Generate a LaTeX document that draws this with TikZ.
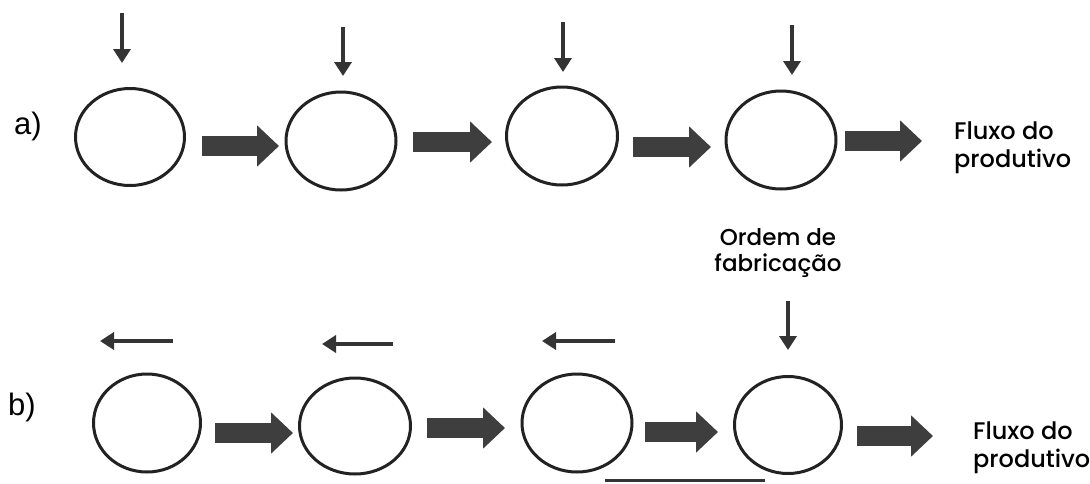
\documentclass[tikz,border=0pt]{standalone}
\usepackage{fontspec}
\setmainfont{Poppins}[UprightFont={* Medium}]
\newfontfamily\labfont{Liberation Sans}
\usetikzlibrary{arrows.meta,shapes.geometric,calc}
\definecolor{ink}{RGB}{34,34,34}
\definecolor{fatgray}{RGB}{62,62,62}
\definecolor{thingray}{RGB}{52,52,52}
\tikzset{
  station/.style={ellipse,draw=ink,line width=3pt,inner sep=0pt},
  fat/.style={draw=fatgray,line width=20pt,-{Triangle[length=22pt,width=40pt]}},
  thin/.style={draw=thingray,line width=3.5pt,-{Triangle[length=14pt,width=17pt]}},
  flowtext/.style={anchor=north west,align=left,inner sep=0pt,font=\fontsize{24}{28}\selectfont},
  lab/.style={inner sep=0pt,font=\labfont\fontsize{31}{32}\selectfont}
}
\begin{document}
\begin{tikzpicture}[x=1pt,y=-1pt]
\useasboundingbox[fill=white] (0,0) rectangle (1090,483);
% row a
\node[station,minimum width=109pt,minimum height=97pt] (a1) at (130,137) {};
\node[station,minimum width=110pt,minimum height=98pt] (a2) at (341,141) {};
\node[station,minimum width=111pt,minimum height=98pt] (a3) at (562,136) {};
\node[station,minimum width=110pt,minimum height=98pt] (a4) at (781,140) {};
\node[lab] (la) at (28,126) {a)};
\node[flowtext] (fa) at (954,122) {Fluxo do\\produtivo};
\coordinate (ta1) at (122,13);
\coordinate (ta2) at (343,27);
\coordinate (ta3) at (563,22);
\coordinate (ta4) at (792,25);
\coordinate (aout) at (922,141);
\draw[thin] (ta1) -- ($(a1.north)+(-8,-24)$);
\draw[thin] (ta2) -- ($(a2.north)+(2,-14.5)$);
\draw[thin] (ta3) -- ($(a3.north)+(1,-13.5)$);
\draw[thin] (ta4) -- ($(a4.north)+(11,-14.5)$);
\draw[fat] ($(a1.east)+(16,9)$) -- ($(a2.west)+(-5.5,5)$);
\draw[fat] ($(a2.east)+(15.5,1)$) -- ($(a3.west)+(-13,6)$);
\draw[fat] ($(a3.east)+(14,11)$) -- ($(a4.west)+(-13.5,7)$);
\draw[fat] ($(a4.east)+(7.5,1)$) -- (aout);
% row b
\node[station,minimum width=107pt,minimum height=98pt] (b1) at (147,423) {};
\node[station,minimum width=111pt,minimum height=96pt] (b2) at (355,426) {};
\node[station,minimum width=110pt,minimum height=98pt] (b3) at (577,423) {};
\node[station,minimum width=107pt,minimum height=97pt] (b4) at (788,425) {};
\node[lab] (lb) at (22,407) {b)};
\node[flowtext] (fb) at (973,422) {Fluxo do\\produtivo};
\node[align=center,inner sep=0pt,anchor=north,font=\fontsize{23}{26}\selectfont] (ord) at (778,228) {Ordem de\\fabricação};
\coordinate (tb4) at (788,301);
\coordinate (bout) at (933,436);
\draw[thin] (tb4) -- ($(b4.north)+(0,-25)$);
\coordinate (l1s) at (173,341); \coordinate (l1e) at (100,341);
\coordinate (l2s) at (393,344); \coordinate (l2e) at (322,344);
\coordinate (l3s) at (615,341); \coordinate (l3e) at (542,341);
\draw[thin] (l1s) -- (l1e);
\draw[thin] (l2s) -- (l2e);
\draw[thin] (l3s) -- (l3e);
\draw[fat] ($(b1.east)+(13,10)$) -- ($(b2.west)+(-5,7)$);
\draw[fat] ($(b2.east)+(15,2)$) -- ($(b3.west)+(-15.5,5)$);
\draw[fat] ($(b3.east)+(11.5,9)$) -- ($(b4.west)+(-15,7)$);
\draw[fat] ($(b4.east)+(14,11)$) -- (bout);
% underline
\coordinate (u1) at (605,480); \coordinate (u2) at (765,480);
\draw[draw=thingray,line width=3pt] (u1) -- (u2);
\end{tikzpicture}
\end{document}
